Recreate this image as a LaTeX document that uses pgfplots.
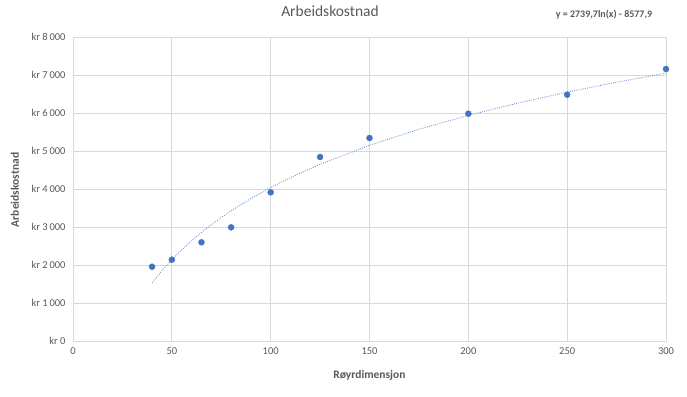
\documentclass[border=0pt]{standalone}
\usepackage{pgfplots}
\pgfplotsset{compat=1.18}
\usepackage{fontspec}
\setmainfont{Carlito}
\definecolor{txt}{HTML}{595959}
\definecolor{grd}{HTML}{D9D9D9}
\definecolor{pt}{HTML}{4472C4}
\begin{document}
\begin{tikzpicture}
\useasboundingbox (-73pt,-55pt) rectangle (614pt,341pt);
\begin{axis}[
  at={(0,0)}, anchor=south west,
  scale only axis, width=593pt, height=304pt,
  xmin=0, xmax=300, ymin=0, ymax=8000,
  xtick={0,50,...,300},
  ytick={0,1000,...,8000},
  yticklabels={kr 0,kr 1\,000,kr 2\,000,kr 3\,000,kr 4\,000,kr 5\,000,kr 6\,000,kr 7\,000,kr 8\,000},
  /pgf/number format/assume math mode=true,
  grid=major,
  major grid style={grd, line width=0.8pt},
  axis line style={grd, line width=0.8pt},
  tick style={draw=none},
  ticklabel style={font=\fontsize{10.5}{12}\selectfont, text=txt},
  yticklabel style={xshift=-4pt},
  xticklabel style={yshift=-3pt},
  title={Arbeidskostnad},
  title style={at={(257pt,324pt)}, anchor=center, font=\fontsize{15.5}{18}\selectfont, text=txt},
  xlabel={Røyrdimensjon},
  xlabel style={at={(296.5pt,-34pt)}, anchor=center, font=\fontsize{11.5}{14}\selectfont\bfseries, text=txt},
  ylabel={Arbeidskostnad},
  ylabel style={at={(-58pt,151pt)}, anchor=center, rotate=0, font=\fontsize{11.5}{14}\selectfont\bfseries, text=txt},
  clip=false,
]
\addplot[pt!80, dash pattern=on 0.9pt off 1.3pt, line width=0.8pt] coordinates {
 (40,1528.5) (45,1851.2) (50,2139.8) (55,2401.0) (60,2639.3) (65,2858.7)
 (70,3061.7) (75,3250.7) (80,3427.5) (90,3750.2) (100,4038.9) (110,4300.0)
 (125,4650.2) (150,5149.7) (175,5572.1) (200,5937.9) (225,6260.6)
 (250,6549.3) (275,6810.4) (300,7048.8)
};
\addplot[only marks, mark=*, mark size=3pt, mark options={fill=pt, draw=pt}] coordinates {
 (40,1955) (50,2140) (65,2597) (80,2991) (100,3912) (125,4842)
 (150,5342) (200,5982) (250,6482) (300,7158)
};
\end{axis}
\node[text=txt, font=\fontsize{10}{12}\selectfont\bfseries] at (531pt,326pt) {y = 2739,7ln(x) - 8577,9};
\end{tikzpicture}
\end{document}
